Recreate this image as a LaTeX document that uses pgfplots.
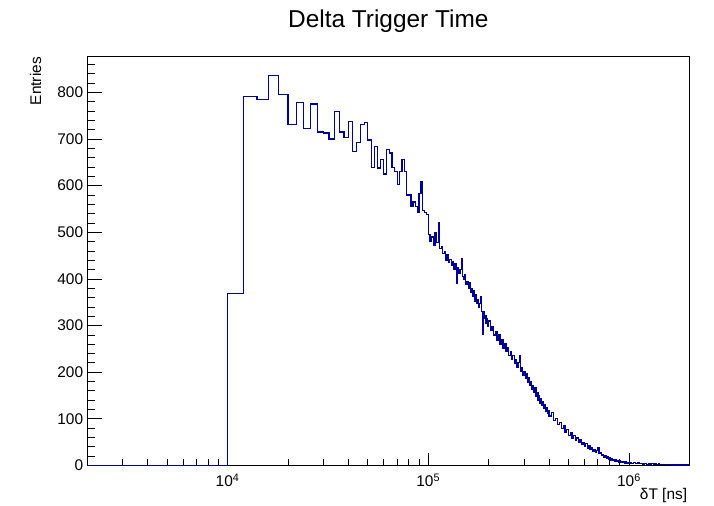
\documentclass[border=0pt]{standalone}
\usepackage{fontspec}
\setmainfont{Liberation Sans}
\usepackage{pgfplots}
\pgfplotsset{compat=1.18}
\definecolor{histblue}{RGB}{0,0,153}
\begin{document}
\begin{tikzpicture}[x=1bp,y=1bp]
\path[use as bounding box] (0bp,0bp) rectangle (714bp,506bp);
% y-axis ticks / labels
\begin{axis}[at={(87.3bp,40.5bp)}, anchor=south west, width=602bp, height=409bp, scale only axis,
  xmode=log, xmin=2000, xmax=2e6, ymin=0, ymax=877,
  xtick=\empty, ytick={0,100,...,800}, minor ytick={20,40,...,860},
  ytick pos=left, tick align=inside,
  major tick length=15bp, minor tick length=8bp,
  every tick/.style={black, line width=0.8bp},
  axis line style={line width=1bp, black},
  /pgf/number format/assume math mode=true,
  yticklabel style={font=\fontsize{15.5}{17}\selectfont, inner sep=0pt, anchor=east, xshift=-4bp},
]
\end{axis}
\begin{axis}[at={(87.3bp,40.5bp)}, anchor=south west, width=602bp, height=409bp, scale only axis,
  xmode=log, xmin=2000, xmax=2e6, ymin=0, ymax=877,
  ytick=\empty, xtick={1e4,1e5,1e6},
  xticklabels={10\textsuperscript{4},10\textsuperscript{5},10\textsuperscript{6}},
  minor xtick={3000,4000,5000,6000,7000,8000,9000,20000,30000,40000,50000,60000,70000,80000,90000,200000,300000,400000,500000,600000,700000,800000,900000},
  xtick pos=left, tick align=inside,
  major tick length=12bp, minor tick length=6bp,
  every tick/.style={black, line width=0.8bp},
  axis line style={line width=1bp, black},
  xticklabel style={font=\fontsize{15.5}{17}\selectfont, inner sep=0pt, anchor=base, yshift=-21.5bp},
  xlabel={δT [ns]},
  xlabel style={font=\fontsize{15.5}{17}\selectfont, at={(axis description cs:1,0)}, anchor=base east, inner sep=0pt, yshift=-34.5bp, xshift=-2bp},
]
\addplot[const plot mark left, histblue, line width=1.2bp] coordinates {
(2000,0) (10000,368) (12000,791) (14000,784) (16000,836) (18000,796) (20000,731)
(22000,779) (24000,722) (26000,775) (28000,715) (30000,713) (32000,700) (34000,759)
(36000,715) (38000,703) (40000,738) (42000,673) (44000,693) (46000,731) (48000,735)
(50000,698) (52000,639) (54000,684) (56000,638) (58000,656) (60000,625) (62000,677)
(64000,670) (66000,639) (68000,630) (70000,602) (72000,630) (74000,656) (76000,630)
(78000,580) (80000,580) (82000,555) (84000,565) (86000,555) (88000,542) (90000,584)
(92000,609) (94000,546) (96000,542) (98000,539)
(100000,495) (102000,480) (104000,490) (106000,472) (108000,500) (110000,478)
(112000,520) (114000,465) (116000,470) (118000,455) (120000,458) (122000,440)
(124000,452) (126000,435) (128000,442) (130000,428) (132000,438) (134000,420)
(136000,432) (138000,390) (140000,425) (142000,412) (144000,420) (146000,444)
(148000,405) (150000,398) (152000,410) (154000,388) (156000,395) (158000,380)
(160000,392) (162000,372) (164000,380) (166000,362) (168000,374) (170000,352)
(172000,366) (174000,348) (176000,356) (178000,340) (180000,348) (182000,362)
(184000,330) (186000,282) (188000,330) (190000,315) (192000,322) (194000,305)
(196000,316) (198000,298)
(200000,310) (204000,290) (208000,298) (212000,280) (216000,288) (220000,268)
(224000,280) (228000,260) (232000,270) (236000,252) (240000,262) (244000,244)
(248000,252) (252000,236) (256000,244) (260000,228) (264000,236) (268000,218)
(272000,228) (276000,210) (280000,220) (284000,235) (288000,202) (292000,210)
(296000,194) (300000,202) (304000,186) (308000,196) (312000,178) (316000,188)
(320000,172) (324000,180) (328000,164) (332000,172) (336000,156) (340000,166)
(344000,148) (348000,156) (352000,140) (356000,150) (360000,134) (364000,144)
(368000,128) (372000,136) (376000,122) (380000,130) (384000,116) (388000,124)
(392000,112) (396000,118)
(400000,106) (410000,113) (420000,96) (430000,101) (440000,88) (450000,93)
(460000,80) (470000,86) (480000,72) (490000,78) (500000,65) (510000,71)
(520000,59) (530000,64) (540000,54) (550000,59) (560000,49) (570000,55)
(580000,45) (590000,50) (600000,42) (610000,47) (620000,37) (630000,42)
(640000,34) (650000,39) (660000,31) (670000,35) (680000,28) (690000,32)
(700000,38) (710000,25) (720000,28) (730000,21) (740000,24) (750000,18)
(760000,22) (770000,16) (780000,19) (790000,14) (800000,17) (810000,12)
(820000,15) (830000,11) (840000,13) (850000,9.5) (860000,12) (870000,8.5)
(880000,11) (890000,7.5) (900000,10) (910000,7) (920000,9) (930000,6)
(940000,8.5) (950000,5.5) (960000,7.5) (970000,5) (980000,7) (990000,4.5)
(1000000,6.5) (1025000,4.5) (1050000,6) (1075000,4) (1100000,5.5) (1125000,3.5)
(1150000,5) (1175000,3) (1200000,4.5) (1225000,2.8) (1250000,4) (1275000,2.5)
(1300000,3.5) (1325000,2.2) (1350000,3.2) (1375000,2) (1400000,3) (1425000,1.8)
(1450000,2.7) (1475000,1.6) (1500000,2.4) (1525000,1.5) (1550000,2.2) (1575000,1.3)
(1600000,2) (1625000,1.2) (1650000,1.8) (1675000,1) (1700000,1.6) (1725000,0.9)
(1750000,1.4) (1775000,0.8) (1800000,1.3) (1825000,0.7) (1850000,1.1) (1875000,0.6)
(1900000,1) (1925000,0.5) (1950000,0.9) (1975000,0.5) (2000000,0.5)
};
\end{axis}
\node[font=\fontsize{24.5}{28}\selectfont, anchor=base, inner sep=0pt] at (388.3bp,478bp) {Delta Trigger Time};
\node[font=\fontsize{15.5}{17}\selectfont, rotate=90, anchor=base east, inner sep=0pt] at (41bp,449bp) {Entries};
\end{tikzpicture}
\end{document}
